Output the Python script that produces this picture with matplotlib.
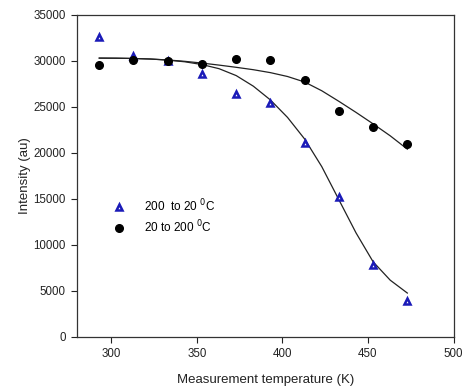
import matplotlib
matplotlib.use("Agg")
import matplotlib.pyplot as plt

plt.rcParams["font.family"] = ["Liberation Sans", "DejaVu Sans"]

# measured points (K, au)
temp = [293, 313, 333, 353, 373, 393, 413, 433, 453, 473]
cooling = [32600, 30500, 30000, 28600, 26400, 25400, 21100, 15200, 7800, 3900]   # 200 to 20 C
heating = [29500, 30100, 30000, 29700, 30250, 30050, 27900, 24500, 22800, 21000]  # 20 to 200 C

# fitted curves, sampled every 10 K
fit_t = [293, 303, 313, 323, 333, 343, 353, 363, 373, 383,
         393, 403, 413, 423, 433, 443, 453, 463, 473]
fit_cooling = [30300, 30290, 30260, 30200, 30080, 29900, 29600, 29150, 28400, 27250,
               25750, 23850, 21500, 18500, 14900, 11300, 8150, 6150, 4750]
fit_heating = [30300, 30290, 30260, 30200, 30100, 29950, 29760, 29540, 29300, 29040,
               28720, 28300, 27700, 26750, 25600, 24400, 23150, 21850, 20400]

fig = plt.figure(figsize=(4.62, 3.92), dpi=100)
ax = fig.add_axes([0.1667, 0.141, 0.815, 0.821])

ax.plot(fit_t, fit_cooling, "-", color="#222222", lw=0.9, solid_joinstyle="round")
ax.plot(fit_t, fit_heating, "-", color="#222222", lw=0.9, solid_joinstyle="round")
ax.plot(temp, cooling, "^", ms=5, mfc="white", mec="#1a1ab8", mew=1.8, ls="none",
        label="200  to 20 $^{0}$C")
ax.plot(temp, heating, "o", ms=5.5, color="black", ls="none",
        label="20 to 200 $^{0}$C")

ax.set_xlim(280, 500)
ax.set_ylim(0, 35000)
ax.set_xticks([300, 350, 400, 450, 500])
ax.set_yticks(range(0, 35001, 5000))
ax.tick_params(direction="out", length=4.5, width=0.8, labelsize=8.3, colors="#222222")
for sp in ax.spines.values():
    sp.set_linewidth(0.9)
    sp.set_color("#333333")

ax.set_xlabel("Measurement temperature (K)", fontsize=9.5, color="#222222", labelpad=10)
ax.set_ylabel("Intensity (au)", fontsize=9.5, color="#222222", labelpad=2)

ax.legend(loc="upper left", bbox_to_anchor=(0.068, 0.465), frameon=False, fontsize=8.5,
          handletextpad=1.6, labelspacing=0.35, handlelength=1.0)

fig.savefig("out.png", dpi=100)
